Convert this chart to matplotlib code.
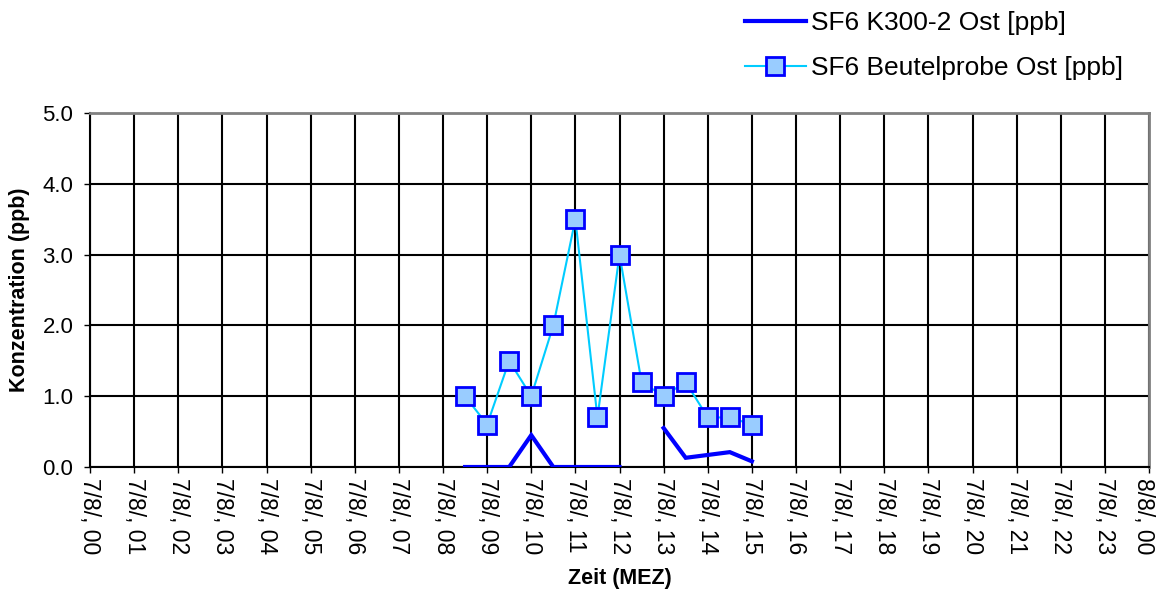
import numpy as np
import matplotlib
matplotlib.use("Agg")
import matplotlib.pyplot as plt
import matplotlib.transforms as mtransforms

plt.rcParams['font.family'] = ['Liberation Sans', 'DejaVu Sans']

# hours on 7/8 (MEZ)
k300_hours = [8.5, 9.0, 9.5, 10.0, 10.5, 11.0, 11.5, 12.0, 12.5, 13.0, 13.5, 14.0, 14.5, 15.0]
k300_ppb = [0.0, 0.0, 0.0, 0.45, 0.0, 0.0, 0.0, 0.0, np.nan, 0.55, 0.13, 0.17, 0.21, 0.08]

bag_hours = [8.5, 9.0, 9.5, 10.0, 10.5, 11.0, 11.5, 12.0, 12.5, 13.0, 13.5, 14.0, 14.5, 15.0]
bag_ppb = [1.0, 0.6, 1.5, 1.0, 2.0, 3.5, 0.7, 3.0, 1.2, 1.0, 1.2, 0.7, 0.7, 0.6]

tick_hours = list(range(25))
tick_labels = ["7/8/, 00", "7/8/, 01", "7/8/, 02", "7/8/, 03", "7/8/, 04", "7/8/, 05",
               "7/8/, 06", "7/8/, 07", "7/8/, 08", "7/8/, 09", "7/8/, 10", "7/8/, 11",
               "7/8/, 12", "7/8/, 13", "7/8/, 14", "7/8/, 15", "7/8/, 16", "7/8/, 17",
               "7/8/, 18", "7/8/, 19", "7/8/, 20", "7/8/, 21", "7/8/, 22", "7/8/, 23",
               "8/8/, 00"]
y_ticks = [0, 1, 2, 3, 4, 5]

fig = plt.figure(figsize=(11.58, 5.91), dpi=100)
ax = fig.add_axes([90 / 1158, 124 / 591, 1059 / 1158, 354 / 591])

ax.plot(k300_hours, k300_ppb, color='#0000FF', linewidth=3, solid_joinstyle='miter',
        label='SF6 K300-2 Ost [ppb]', zorder=3)
ax.plot(bag_hours, bag_ppb, color='#00CCFF', linewidth=1.5, marker='s', markersize=13,
        markerfacecolor='#99CCFF', markeredgecolor='#0000FF', markeredgewidth=2,
        label='SF6 Beutelprobe Ost [ppb]', zorder=4)

ax.set_xlim(0, 24)
ax.set_ylim(0, 5)
ax.set_xticks(tick_hours)
ax.set_xticklabels(tick_labels, rotation=-90, fontsize=16.5)
ax.set_yticks(y_ticks)
ax.set_yticklabels([f"{v:.1f}" for v in y_ticks], fontsize=16)
ax.tick_params(axis='both', direction='out', length=4, width=1, color='black')
ax.tick_params(axis='x', pad=4)
ax.tick_params(axis='y', pad=8)

# last label sits on the figure edge, nudge it left a bit
last = ax.get_xticklabels()[-1]
last.set_transform(last.get_transform() +
                   mtransforms.ScaledTranslation(-6 / 100, 0, fig.dpi_scale_trans))

ax.grid(True, color='black', linewidth=1.5)
ax.set_axisbelow(True)
for side in ['top', 'right']:
    ax.spines[side].set_color('#808080')
    ax.spines[side].set_linewidth(2)
for side in ['left', 'bottom']:
    ax.spines[side].set_color('black')
    ax.spines[side].set_linewidth(1.5)

ax.set_xlabel('Zeit (MEZ)', fontsize=15.5, fontweight='bold', labelpad=10)
ax.set_ylabel('Konzentration (ppb)', fontsize=15.5, fontweight='bold', labelpad=9)

fig.legend(loc='upper left', bbox_to_anchor=(745 / 1158, 1 - 11 / 591), frameon=False,
           fontsize=19, handlelength=2.3, handletextpad=0.2, labelspacing=0.8,
           borderpad=0, borderaxespad=0)

fig.savefig('out.png', dpi=100)
